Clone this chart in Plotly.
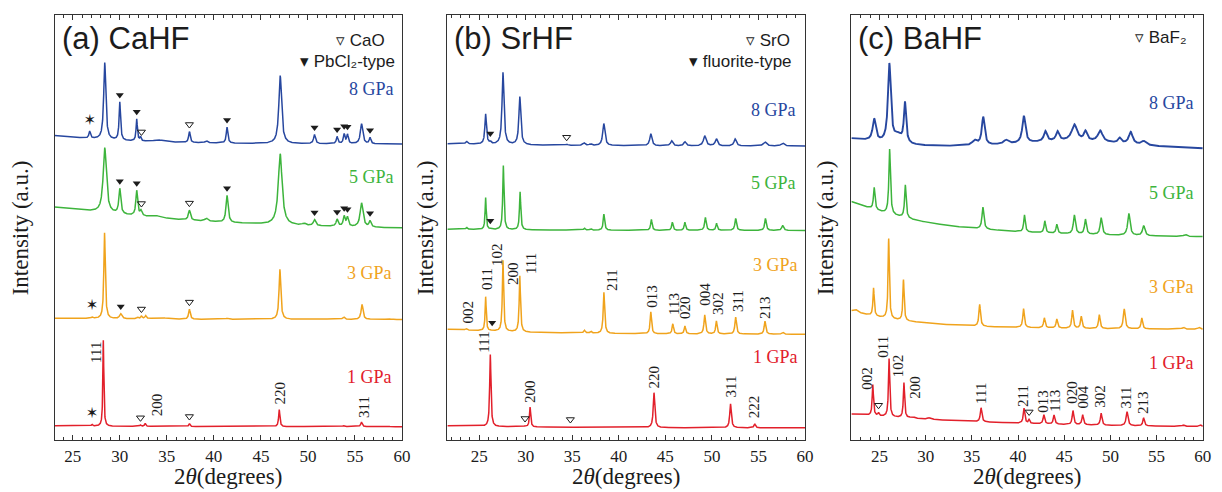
import numpy as np
import plotly.graph_objects as go

# ---------------------------------------------------------------
# Diffraction patterns: flat level + Lorentzian components
# (2θ centre, height in a.u., half width at half maximum in degrees).
# Very broad components describe the amorphous background.
# ---------------------------------------------------------------

# (a) CaHF
cahf_8_level = 295.6
cahf_8_pos = [20.0, 26.8, 28.4, 30.0, 31.8, 32.2, 34.1, 37.4, 39.2, 41.4, 47.05, 50.7, 53.1, 53.85, 54.2, 55.7, 56.6]
cahf_8_hgt = [10, 7, 77, 38, 22, 4, 2, 11, 2, 16, 68, 9, 7, 9.5, 9, 20, 6]
cahf_8_hw = [8, 0.1, 0.13, 0.09, 0.08, 0.08, 0.6, 0.1, 0.15, 0.1, 0.17, 0.12, 0.1, 0.1, 0.1, 0.15, 0.1]

cahf_5_level = 207.9
cahf_5_pos = [15.0, 28.4, 30.0, 31.8, 32.25, 33.8, 37.4, 39.2, 41.4, 47.05, 49.6, 50.7, 53.1, 53.85, 54.2, 55.7, 56.6]
cahf_5_hgt = [30, 65, 25, 25, 5, 2, 10, 3, 27, 71, 2, 6, 7, 10, 9, 24, 6]
cahf_5_hw = [18, 0.2, 0.12, 0.11, 0.12, 0.6, 0.13, 0.2, 0.13, 0.24, 0.2, 0.15, 0.13, 0.12, 0.12, 0.18, 0.12]

cahf_3_level = 120.5
cahf_3_pos = [20.0, 27.05, 28.38, 30.1, 31.9, 32.3, 32.75, 34.3, 37.4, 41.4, 47.02, 51.0, 53.8, 55.75, 58.5]
cahf_3_hgt = [1.5, 1.5, 86, 5, 1.5, 2.5, 3, 1.5, 10, 1, 50, 1, 2.5, 15, 0.8]
cahf_3_hw = [8, 0.1, 0.09, 0.15, 0.1, 0.1, 0.1, 0.8, 0.1, 0.2, 0.11, 0.6, 0.12, 0.12, 0.2]

cahf_1_level = 13.3
cahf_1_pos = [20.0, 27.05, 28.25, 32.2, 32.7, 37.4, 46.95, 53.8, 55.7, 58.5]
cahf_1_hgt = [1, 1.5, 86, 1.5, 3, 3, 17, 1, 4.5, 0.8]
cahf_1_hw = [8, 0.08, 0.06, 0.08, 0.08, 0.08, 0.08, 0.1, 0.1, 0.1]

# phase markers (2θ)
cahf_8_pbcl2 = [30.0, 31.8, 41.4, 50.7, 53.1, 53.85, 54.2, 56.6]
cahf_8_cao = [32.3, 37.4]
cahf_8_star = [26.8]
cahf_5_pbcl2 = [30.0, 31.8, 41.4, 50.7, 53.1, 53.85, 54.2, 56.6]
cahf_5_cao = [32.3, 37.4]
cahf_3_pbcl2 = [30.1]
cahf_3_cao = [32.3, 37.4]
cahf_3_star = [27.05]
cahf_1_cao = [32.2, 37.4]
cahf_1_star = [27.05]

cahf_1_hkl = ["111", "200", "220", "311"]

# (b) SrHF
srhf_8_level = 293.8
srhf_8_pos = [20.0, 23.65, 25.7, 26.2, 27.56, 29.37, 34.4, 36.26, 36.97, 38.39, 43.44, 45.68, 47.1, 49.23, 50.48, 52.5, 55.7, 57.6]
srhf_8_hgt = [2.5, 2.5, 30, 2, 72, 48, 1, 2.5, 1.5, 22, 12, 5, 4, 10, 7, 7, 4, 3]
srhf_8_hw = [10, 0.12, 0.1, 0.1, 0.12, 0.12, 0.15, 0.15, 0.15, 0.14, 0.14, 0.15, 0.15, 0.17, 0.15, 0.15, 0.2, 0.2]

srhf_5_level = 209.5
srhf_5_pos = [20.0, 23.65, 25.7, 26.2, 27.6, 29.4, 36.3, 36.97, 38.4, 43.5, 45.75, 47.1, 49.3, 50.5, 52.55, 55.75, 57.6]
srhf_5_hgt = [1.2, 2, 32, 1, 64, 38, 2, 1.5, 16, 11, 8, 8, 13, 7, 12, 12, 5]
srhf_5_hw = [10, 0.1, 0.07, 0.08, 0.08, 0.08, 0.1, 0.1, 0.09, 0.09, 0.09, 0.09, 0.1, 0.09, 0.1, 0.1, 0.12]

srhf_3_level = 105.4
srhf_3_pos = [18.0, 23.6, 25.7, 26.4, 27.56, 29.37, 36.3, 37.0, 38.4, 43.44, 45.8, 47.1, 49.23, 50.48, 52.55, 55.7, 57.6]
srhf_3_hgt = [6, 1.5, 34, 0.5, 71, 56, 3, 2, 41, 22, 10, 8, 19, 13, 17, 13, 2]
srhf_3_hw = [10, 0.1, 0.07, 0.1, 0.08, 0.08, 0.1, 0.1, 0.09, 0.09, 0.09, 0.09, 0.1, 0.09, 0.1, 0.1, 0.12]

srhf_1_level = 12.0
srhf_1_pos = [18.0, 26.2, 29.93, 30.47, 34.8, 43.78, 52.0, 54.6]
srhf_1_hgt = [2.5, 72, 1, 20, 0.8, 35, 24, 4]
srhf_1_hw = [10, 0.08, 0.1, 0.08, 0.1, 0.1, 0.1, 0.1]

srhf_8_fluorite = [26.2]
srhf_8_sro = [34.4]
srhf_5_fluorite = [26.2]
srhf_3_fluorite = [26.4]
srhf_1_sro = [29.93, 34.8]

srhf_3_hkl = ["002", "011", "102", "200", "111", "211", "013", "113", "020", "004", "302", "311", "213"]
srhf_1_hkl = ["111", "200", "220", "311", "222"]

# (c) BaHF
bahf_8_level = 288.5
bahf_8_pos = [20.0, 46.0, 24.43, 26.07, 27.0, 27.76, 35.3, 36.23, 38.7, 40.63, 42.96, 44.28, 46.1, 47.3, 48.9, 51.0, 52.2, 53.6]
bahf_8_hgt = [13, 10, 22, 78, 8, 40, 5, 28, 4, 27, 10, 9, 16, 9, 11, 5, 12, 4]
bahf_8_hw = [6, 9, 0.2, 0.18, 0.5, 0.14, 0.3, 0.18, 0.3, 0.2, 0.2, 0.2, 0.35, 0.2, 0.3, 0.2, 0.25, 0.3]

bahf_5_level = 200.7
bahf_5_pos = [15.0, 24.43, 26.1, 27.8, 36.2, 40.7, 42.9, 44.2, 46.1, 47.3, 49.0, 52.0, 53.6, 58.1]
bahf_5_hgt = [56, 22, 65, 33, 22, 17, 12, 9, 19, 15, 17, 22, 10, 2]
bahf_5_hw = [10, 0.1, 0.1, 0.1, 0.12, 0.1, 0.1, 0.1, 0.13, 0.12, 0.13, 0.15, 0.15, 0.2]

bahf_3_level = 109.9
bahf_3_pos = [18.0, 22.4, 24.36, 26.0, 27.6, 35.85, 40.6, 42.85, 44.2, 45.9, 46.85, 48.8, 51.5, 53.4, 57.9, 59.6]
bahf_3_hgt = [23, 3, 28, 80, 41, 22, 19, 10, 9, 18, 12, 14, 20, 11, 2, 2]
bahf_3_hw = [8, 0.3, 0.08, 0.08, 0.08, 0.1, 0.1, 0.1, 0.1, 0.1, 0.1, 0.1, 0.12, 0.1, 0.15, 0.15]

bahf_1_level = 10.4
bahf_1_pos = [10.0, 24.28, 24.9, 26.04, 27.65, 28.6, 30.4, 36.0, 40.65, 41.2, 42.8, 43.9, 45.95, 47.0, 49.0, 51.8, 53.6, 57.9, 59.7]
bahf_1_hgt = [21, 31, 3, 58, 35, 1.5, 1.5, 14, 15, 4, 9, 9, 14, 10, 12, 14, 8, 1.5, 2]
bahf_1_hw = [20, 0.08, 0.08, 0.08, 0.08, 0.2, 0.2, 0.1, 0.1, 0.08, 0.1, 0.1, 0.1, 0.1, 0.1, 0.12, 0.1, 0.15, 0.15]

bahf_1_baf2 = [24.9, 41.2]
bahf_1_hkl = ["002", "011", "102", "200", "111", "211", "013", "113", "020", "004", "302", "311", "213"]

pressures = ["8 GPa", "5 GPa", "3 GPa", "1 GPa"]
x_ticks = [25, 30, 35, 40, 45, 50, 55, 60]

# ---------------------------------------------------------------
# Styling / layout
# ---------------------------------------------------------------
W, H = 1222, 492
COLORS = ["#27479f", "#3db43c", "#f0a31c", "#e2202b"]
INK = "#1c1c1c"
SERIF = "Liberation Serif"
SANS = "Liberation Sans"

PLOT_TOP, PLOT_BOTTOM = 15, 440
Y_RANGE = [0, PLOT_BOTTOM - PLOT_TOP]
panel_px = [(55, 405), (450.7, 811), (857.7, 1211.7)]
panel_xmin = [23.07, 21.59, 21.96]


def profile(x, level, pos, hgt, hw):
    y = np.full_like(x, level, dtype=float)
    for p, h, w in zip(pos, hgt, hw):
        y += h / (1.0 + ((x - p) / w) ** 2)
    return y


fig = go.Figure()
annotations = []

panels = [
    dict(
        title="(a) CaHF",
        patterns=[
            (cahf_8_level, cahf_8_pos, cahf_8_hgt, cahf_8_hw),
            (cahf_5_level, cahf_5_pos, cahf_5_hgt, cahf_5_hw),
            (cahf_3_level, cahf_3_pos, cahf_3_hgt, cahf_3_hw),
            (cahf_1_level, cahf_1_pos, cahf_1_hgt, cahf_1_hw),
        ],
        filled=[cahf_8_pbcl2, cahf_5_pbcl2, cahf_3_pbcl2, []],
        open=[cahf_8_cao, cahf_5_cao, cahf_3_cao, cahf_1_cao],
        star=[cahf_8_star, [], cahf_3_star, cahf_1_star],
        legend=[("\u25bf CaO", 390, 40), ("\u25be PbCl\u2082-type", 400, 61)],
        labels_at=[(56.73, 351), (56.73, 263), (56.5, 167), (56.5, 63)],
        hkl=[(3, cahf_1_hkl, [(27.47, 88), (33.97, 35), (46.99, 47), (55.96, 33)])],
    ),
    dict(
        title="(b) SrHF",
        patterns=[
            (srhf_8_level, srhf_8_pos, srhf_8_hgt, srhf_8_hw),
            (srhf_5_level, srhf_5_pos, srhf_5_hgt, srhf_5_hw),
            (srhf_3_level, srhf_3_pos, srhf_3_hgt, srhf_3_hw),
            (srhf_1_level, srhf_1_pos, srhf_1_hgt, srhf_1_hw),
        ],
        filled=[srhf_8_fluorite, srhf_5_fluorite, srhf_3_fluorite, []],
        open=[srhf_8_sro, [], [], srhf_1_sro],
        star=[[], [], [], []],
        legend=[("\u25bf SrO", 798, 40), ("\u25be fluorite-type", 800, 61)],
        labels_at=[(56.59, 330), (56.59, 257), (56.85, 175), (56.85, 83)],
        hkl=[
            (2, srhf_3_hkl, [(23.85, 128), (25.84, 161), (26.93, 185), (28.63, 167), (30.58, 176),
                             (39.28, 160), (43.55, 144), (45.92, 136), (47.1, 133), (49.23, 146),
                             (50.66, 136), (52.8, 139), (55.69, 133)]),
            (3, srhf_1_hkl, [(25.49, 98), (30.47, 48), (43.83, 63), (52.0, 53), (54.56, 33)]),
        ],
    ),
    dict(
        title="(c) BaHF",
        patterns=[
            (bahf_8_level, bahf_8_pos, bahf_8_hgt, bahf_8_hw),
            (bahf_5_level, bahf_5_pos, bahf_5_hgt, bahf_5_hw),
            (bahf_3_level, bahf_3_pos, bahf_3_hgt, bahf_3_hw),
            (bahf_1_level, bahf_1_pos, bahf_1_hgt, bahf_1_hw),
        ],
        filled=[[], [], [], []],
        open=[[], [], [], bahf_1_baf2],
        star=[[], [], [], []],
        legend=[("\u25bf BaF\u2082", 1198, 37)],
        labels_at=[(56.66, 337), (56.66, 247), (56.66, 153), (56.66, 77)],
        hkl=[(3, bahf_1_hkl, [(23.63, 62), (25.35, 93), (27.04, 74), (28.83, 53), (35.98, 47),
                              (40.53, 44), (42.68, 39), (43.97, 39), (45.82, 48), (47.08, 43),
                              (48.86, 44), (51.73, 43), (53.52, 38)])],
    ),
]

for i, panel in enumerate(panels):
    xr = "x" if i == 0 else f"x{i + 1}"
    yr = "y" if i == 0 else f"y{i + 1}"
    x0 = panel_xmin[i]
    grid = np.round(np.arange(x0, 60.0001, 0.01), 3)
    all_pos = [p for pat in panel["patterns"] for p in pat[1] if x0 <= p <= 60]
    grid = np.union1d(grid, np.array(all_pos))

    for k, (level, pos, hgt, hw) in enumerate(panel["patterns"]):
        fig.add_trace(go.Scatter(
            x=grid, y=profile(grid, level, pos, hgt, hw), mode="lines",
            line=dict(color=COLORS[k], width=1.5 if not (i == 2 and k == 0) else 1.9),
            xaxis=xr, yaxis=yr, hoverinfo="skip", showlegend=False,
        ))

        def marks_y(xs, gap):
            xs = np.array(xs, dtype=float)
            return profile(xs, level, pos, hgt, hw) + gap

        if panel["filled"][k]:
            fig.add_trace(go.Scatter(
                x=panel["filled"][k], y=marks_y(panel["filled"][k], 7), mode="markers",
                marker=dict(symbol="triangle-down", size=7, color=INK),
                xaxis=xr, yaxis=yr, hoverinfo="skip", showlegend=False))
        if panel["open"][k]:
            fig.add_trace(go.Scatter(
                x=panel["open"][k], y=marks_y(panel["open"][k], 7), mode="markers",
                marker=dict(symbol="triangle-down-open", size=7, color=INK, line=dict(width=1, color=INK)),
                xaxis=xr, yaxis=yr, hoverinfo="skip", showlegend=False))
        if panel["star"][k]:
            fig.add_trace(go.Scatter(
                x=panel["star"][k], y=marks_y(panel["star"][k], 10), mode="text",
                text=["\u2736"] * len(panel["star"][k]),
                textfont=dict(family="DejaVu Sans", size=15, color=INK),
                xaxis=xr, yaxis=yr, hoverinfo="skip", showlegend=False))

        # pressure label
        lx, ly = panel["labels_at"][k]
        annotations.append(dict(x=lx, y=ly, xref=xr, yref=yr, text=pressures[k], showarrow=False,
                                xanchor="center", yanchor="middle",
                                font=dict(family=SERIF, size=18, color=COLORS[k])))

    # Miller indices
    for k, names, spots in panel["hkl"]:
        for name, (hx, hy) in zip(names, spots):
            annotations.append(dict(x=hx, y=hy, xref=xr, yref=yr, text=name, showarrow=False,
                                    textangle=-90, xanchor="center", yanchor="middle",
                                    font=dict(family=SERIF, size=15, color=INK)))

    # panel title
    left_px, right_px = panel_px[i]
    annotations.append(dict(x=(left_px + 5) / W, y=(H - 39) / H, xref="paper", yref="paper",
                            text=panel["title"], showarrow=False, xanchor="left", yanchor="middle",
                            font=dict(family=SANS, size=31, color=INK)))
    # phase legend
    for txt, rx, ry in panel["legend"]:
        annotations.append(dict(x=rx / W, y=(H - ry) / H, xref="paper", yref="paper", text=txt,
                                showarrow=False, xanchor="right", yanchor="middle",
                                font=dict(family=SANS, size=17, color=INK)))
    # axis titles
    annotations.append(dict(x=(left_px + right_px) / 2 / W, y=(H - 476) / H, xref="paper", yref="paper",
                            text="2<i>\u03b8</i>(degrees)", showarrow=False, xanchor="center",
                            yanchor="middle", font=dict(family=SERIF, size=23, color=INK)))
    ytitle_x = [21, 429, 832][i]
    annotations.append(dict(x=ytitle_x / W, y=(H - (PLOT_TOP + PLOT_BOTTOM) / 2) / H, xref="paper",
                            yref="paper", text="Intensity (a.u.)", showarrow=False, textangle=-90,
                            xanchor="center", yanchor="middle", font=dict(family=SERIF, size=23, color=INK)))

axis_common = dict(showgrid=False, zeroline=False, showline=True, linecolor="#333333", linewidth=1.2,
                   mirror=True)
layout = dict(
    width=W, height=H, margin=dict(l=0, r=0, t=0, b=0),
    paper_bgcolor="white", plot_bgcolor="white", showlegend=False,
    annotations=annotations,
)
for i in range(3):
    sfx = "" if i == 0 else str(i + 1)
    left_px, right_px = panel_px[i]
    layout[f"xaxis{sfx}"] = dict(
        axis_common, domain=[left_px / W, right_px / W], range=[panel_xmin[i], 60],
        anchor=f"y{sfx}", tickmode="array", tickvals=x_ticks, ticktext=[str(t) for t in x_ticks],
        ticks="inside", ticklen=5, tickwidth=1, tickcolor="#333333", mirror="allticks",
        minor=dict(ticks="inside", dtick=1, tick0=0, ticklen=3, tickwidth=1, tickcolor="#333333"),
        tickfont=dict(family=SERIF, size=17, color=INK),
    )
    layout[f"yaxis{sfx}"] = dict(
        axis_common, domain=[(H - PLOT_BOTTOM) / H, (H - PLOT_TOP) / H], range=Y_RANGE,
        anchor=f"x{sfx}", showticklabels=False, ticks="",
    )

fig.update_layout(**layout)
fig.write_html("out.html")
